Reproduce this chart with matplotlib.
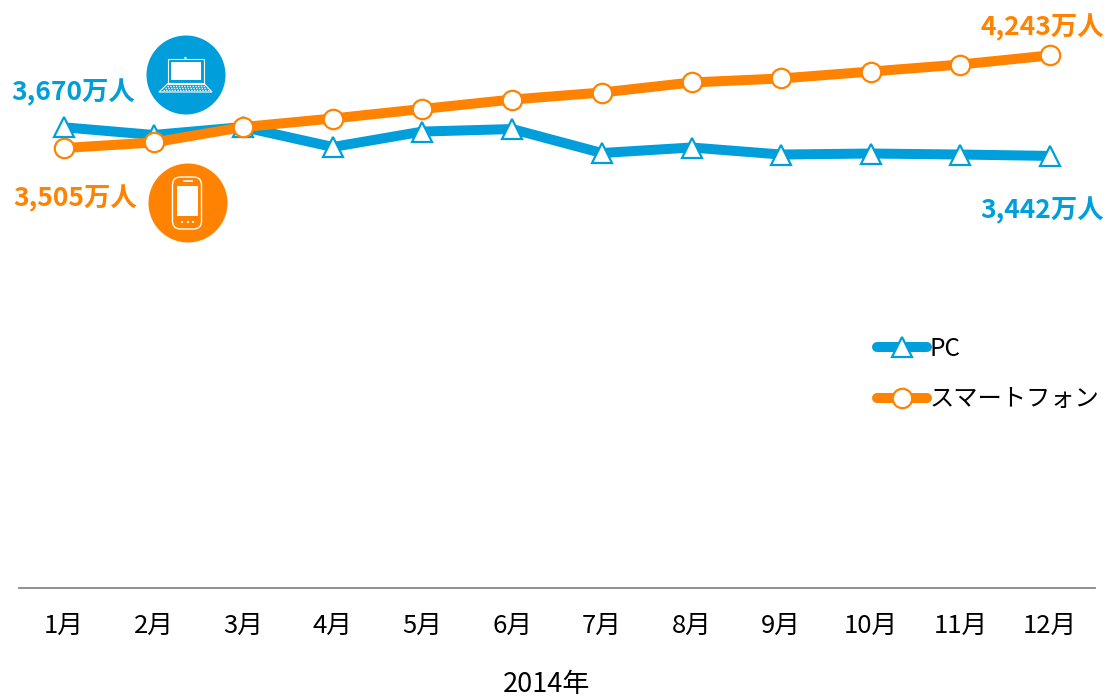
import matplotlib
matplotlib.use('Agg')
import matplotlib.pyplot as plt
from matplotlib.patches import Circle, FancyBboxPatch, Polygon, Rectangle

plt.rcParams['font.family'] = ['Noto Sans CJK JP', 'DejaVu Sans']

months = ['1月', '2月', '3月', '4月', '5月', '6月', '7月', '8月', '9月', '10月', '11月', '12月']
pc = [3670, 3609, 3672, 3513, 3636, 3656, 3465, 3509, 3453, 3461, 3453, 3442]
smartphone = [3505, 3549, 3672, 3740, 3816, 3891, 3947, 4027, 4059, 4114, 4170, 4243]

BLUE = '#009FDB'
ORANGE = '#FF8200'

fig = plt.figure(figsize=(11.08, 7), dpi=100)
ax = fig.add_axes([19 / 1108, 112 / 700, 1076 / 1108, 588 / 700])

x = list(range(len(months)))
ax.plot(x, pc, color=BLUE, lw=7.2, marker='^', ms=15, mfc='white', mec=BLUE, mew=1.6,
        solid_capstyle='round', solid_joinstyle='round', label='PC', zorder=3)
ax.plot(x, smartphone, color=ORANGE, lw=7.2, marker='o', ms=14, mfc='white', mec=ORANGE, mew=1.6,
        solid_capstyle='round', solid_joinstyle='round', label='スマートフォン', zorder=4)

ax.set_xlim(-0.5, 11.5)
ax.set_ylim(0, 4684)
ax.set_xticks(x)
ax.set_xticklabels(months, fontsize=18.5, color='black')
ax.set_yticks([])
ax.tick_params(axis='x', length=0, pad=18)
for s in ['top', 'left', 'right']:
    ax.spines[s].set_visible(False)
ax.spines['bottom'].set_color('#868686')
ax.spines['bottom'].set_linewidth(1.3)
ax.patch.set_alpha(0)

ax.legend(loc='upper left', bbox_to_anchor=(858 / 1076, 252 / 588), frameon=False, fontsize=17.5,
          handlelength=2.06, handletextpad=0.1, labelspacing=1.0, borderpad=0, borderaxespad=0,
          numpoints=1)

# overlay in pixel units for the end labels and the two round icons
ov = fig.add_axes([0, 0, 1, 1])
ov.set_xlim(0, 1108)
ov.set_ylim(700, 0)
ov.axis('off')

def end_label(px, py, value, color):
    ov.text(px, py, f'{value:,}万人', color=color, fontsize=19, fontweight='bold',
            ha='right', va='center')

end_label(135, 93, pc[0], BLUE)
end_label(137, 199, smartphone[0], ORANGE)
end_label(1104, 28, smartphone[-1], ORANGE)
end_label(1104, 211, pc[-1], BLUE)

ov.text(547, 685, '2014年', fontsize=19.5, color='black', ha='center', va='center')

# laptop icon
ov.add_patch(Circle((186, 75), 39.5, fc=BLUE, ec='none'))
ov.add_patch(Rectangle((168, 58.5), 36, 25, fc='none', ec='white', lw=0.8))
ov.add_patch(Rectangle((171, 62), 30, 18, fc='white', ec='none'))
ov.add_patch(Circle((185.5, 58), 1.2, fc='white', ec='none'))
ov.add_patch(Polygon([(168, 83.5), (204, 83.5), (212, 92), (159, 92)], closed=True,
                     fc='none', ec='white', lw=0.8))
for row_y, x0, x1 in [(85.5, 167, 205), (88, 165, 207), (90.3, 163, 209)]:
    ov.plot([x0, x1], [row_y, row_y], color='white', lw=1.0, ls=(0, (1, 1)))

# smartphone icon
ov.add_patch(Circle((188, 203), 39.5, fc=ORANGE, ec='none'))
ov.add_patch(FancyBboxPatch((172.5, 177), 29, 52, boxstyle='round,pad=0,rounding_size=8',
                            fc='none', ec='white', lw=1.0))
ov.add_patch(Rectangle((177, 186), 21, 30, fc='white', ec='none'))
ov.plot([184, 192], [181, 181], color='white', lw=1.2)
for dot_x in (182, 188, 193):
    ov.add_patch(Circle((dot_x, 222), 1.1, fc='white', ec='none'))

fig.savefig('out.png', dpi=100)
